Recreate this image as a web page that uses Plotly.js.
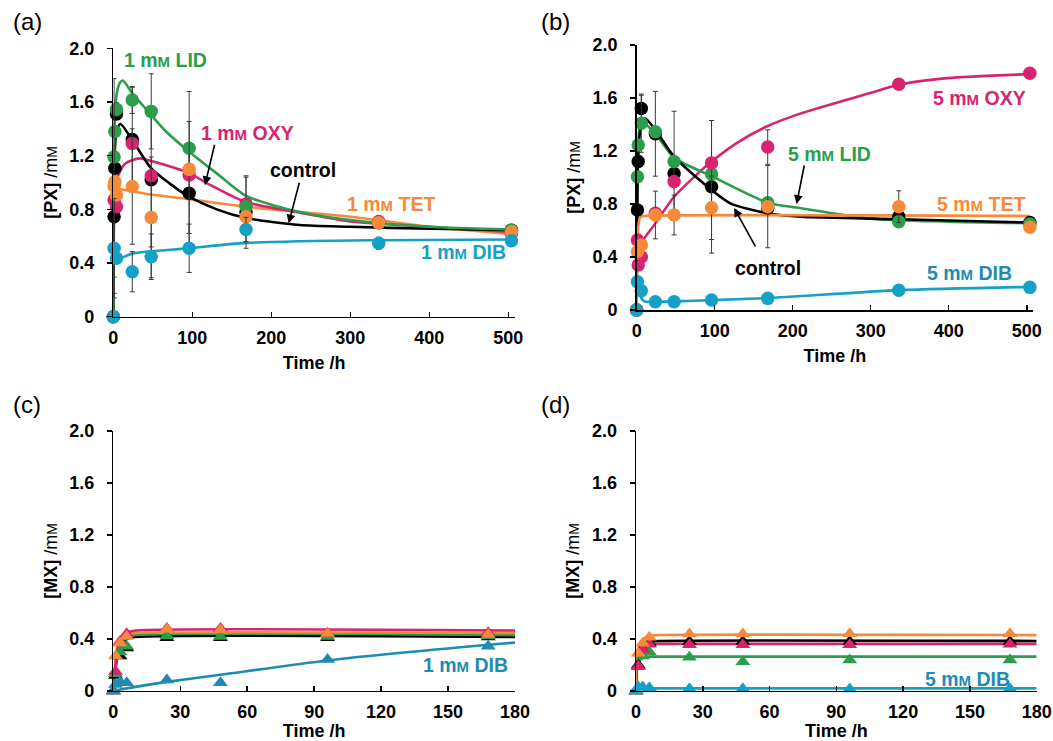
<!DOCTYPE html>
<html><head><meta charset="utf-8">
<script src="https://cdn.plot.ly/plotly-3.0.1.min.js"></script>
<style>html,body{margin:0;padding:0;background:#fff}#chart{width:1053px;height:741px}</style>
</head><body><div id="chart"></div>
<script>
// ---------- colours ----------
const C_BLACK = '#000000', C_GREEN = '#2a9e4a', C_MAG = '#d8236f', C_ORG = '#f7893a', C_BLUE = '#15a0c8', C_BLUE2 = '#1f8bb2';

// ---------- panel (a): [PX], 1 mM ----------
const tA = [0, 1, 2, 4, 24, 48, 96, 168, 336, 504];
const a_control = [0, 0.745, 1.106, 1.51, 1.32, 1.02, 0.92, 0.78, 0.70, 0.645];
const a_LID = [0, 1.19, 1.38, 1.545, 1.615, 1.53, 1.255, 0.82, 0.70, 0.645];
const a_OXY = [0, 0.87, null, 0.82, 1.29, 1.05, 1.056, 0.84, 0.71, 0.62];
const a_TET = [0, 0.974, 1.006, 0.907, 0.97, 0.74, 1.098, 0.745, 0.70, 0.633];
const a_DIB = [0, 0.51, null, 0.435, 0.335, 0.447, 0.51, 0.65, 0.547, 0.566];
const a_err_control = [0, 0.45, 0, 0, 0.39, 0.50, 0.30, 0.27, 0, 0];
const a_err_LID = [0, 0, 0, 0.05, 0.10, 0.28, 0.20, 0, 0, 0];
const a_err_OXY = [0, 0, 0, 0, 0, 0, 0, 0.20, 0, 0];
const a_err_TET = [0, 0.80, 0, 0, 0.43, 0.45, 0.58, 0, 0, 0];
const a_err_DIB = [0, 0.37, 0, 0, 0.15, 0.17, 0.18, 0.09, 0.045, 0];
// fitted curves (a)
const aft_control = [0, 1, 2, 4, 9, 24, 48, 72, 96, 131, 168, 236, 300, 400, 504];
const afv_control = [0, 1.0, 1.25, 1.38, 1.436, 1.317, 1.105, 0.99, 0.894, 0.80, 0.735, 0.683, 0.67, 0.655, 0.646];
const aft_LID = [0, 1, 2, 4, 8, 12, 24, 48, 67, 96, 131, 168, 236, 300, 400, 504];
const afv_LID = [0, 1.2, 1.5, 1.65, 1.74, 1.76, 1.665, 1.503, 1.378, 1.23, 1.068, 0.90, 0.78, 0.72, 0.67, 0.65];
const aft_OXY = [0, 1, 2, 6, 15, 33, 48, 96, 120, 167, 236, 300, 400, 504];
const afv_OXY = [0, 0.85, 0.95, 1.05, 1.14, 1.18, 1.16, 1.07, 0.99, 0.856, 0.775, 0.71, 0.67, 0.63];
const aft_TET = [0, 0.5, 2, 24, 48, 96, 167, 236, 300, 400, 504];
const afv_TET = [0, 0.97, 0.96, 0.935, 0.91, 0.875, 0.82, 0.78, 0.745, 0.67, 0.616];
const aft_DIB = [0, 0.5, 2, 5, 24, 96, 168, 336, 504];
const afv_DIB = [0, 0.5, 0.46, 0.43, 0.47, 0.51, 0.55, 0.57, 0.575];

// ---------- panel (b): [PX], 5 mM ----------
const tB = [0, 1, 2, 6, 24, 48, 96, 168, 336, 504];
const b_control = [0, 0.755, 1.12, 1.52, 1.33, 1.03, 0.93, 0.77, 0.704, 0.66];
const b_LID = [0, 1.006, 1.245, 1.41, 1.346, 1.12, 1.026, 0.81, 0.667, 0.65];
const b_OXY = [0, 0.528, 0.34, 0.40, 0.73, 0.97, 1.11, 1.23, 1.703, 1.786];
const b_TET = [0, 0.44, null, 0.49, 0.717, 0.717, 0.772, 0.78, 0.78, 0.624];
const b_DIB = [0, 0.214, null, 0.146, 0.063, 0.063, 0.075, 0.088, 0.15, 0.171];
const b_err_control = [0, 0, 0, 0.10, 0.32, 0, 0.50, 0, 0, 0];
const b_err_LID = [0, 0, 0, 0.22, 0, 0.38, 0, 0, 0, 0];
const b_err_OXY = [0, 0, 0, 0, 0, 0, 0.32, 0.13, 0, 0];
const b_err_TET = [0, 0, 0, 0, 0.18, 0.15, 0.24, 0.31, 0.12, 0];
const b_err_DIB = [0, 0, 0, 0, 0, 0, 0, 0, 0.04, 0.03];
const bft_control = [0, 1, 2, 4, 7, 10.6, 24, 48, 96, 120, 168, 210, 336, 504];
const bfv_control = [0, 0.9, 1.15, 1.33, 1.42, 1.447, 1.36, 1.157, 0.906, 0.805, 0.73, 0.704, 0.685, 0.66];
const bft_LID = [0, 1, 2, 4, 6, 24, 48, 96, 168, 209, 300, 400, 504];
const bfv_LID = [0, 1.0, 1.25, 1.38, 1.42, 1.33, 1.15, 1.01, 0.81, 0.77, 0.69, 0.667, 0.655];
const bft_OXY = [0, 1, 24, 48, 76.6, 96, 127.7, 166, 208.6, 298, 336, 398, 504];
const bfv_OXY = [0, 0.45, 0.654, 0.855, 1.02, 1.12, 1.258, 1.383, 1.48, 1.635, 1.70, 1.75, 1.78];
const bft_TET = [0, 0.5, 2, 4, 6, 10, 504];
const bfv_TET = [0, 0.45, 0.62, 0.69, 0.705, 0.71, 0.71];
const bft_DIB = [0, 0.5, 2, 6, 10, 24, 48, 96, 168, 336, 504];
const bfv_DIB = [0, 0.21, 0.16, 0.09, 0.065, 0.063, 0.065, 0.075, 0.09, 0.15, 0.175];

// ---------- panel (c): [MX], 1 mM ----------
const tC = [0, 1, 3, 6, 24, 48, 96, 168];
const c_control = [0, 0.12, 0.27, 0.33, 0.41, 0.41, 0.41, 0.415];
const c_LID = [0, 0.133, 0.30, 0.345, 0.425, 0.42, 0.42, 0.425];
const c_OXY = [0, 0.15, 0.38, 0.44, 0.48, 0.48, 0.445, 0.448];
const c_TET = [0, 0.27, 0.37, 0.42, 0.474, 0.47, 0.443, 0.435];
const c_DIB = [0, 0.05, 0.07, 0.064, 0.085, 0.064, 0.243, 0.345];
const cft = [0, 1, 2, 4, 6, 10, 180];
const cfv_control = [0, 0.17, 0.28, 0.37, 0.40, 0.415, 0.415];
const cfv_LID = [0, 0.18, 0.30, 0.38, 0.41, 0.43, 0.43];
const cfv_OXY = [0, 0.20, 0.33, 0.42, 0.45, 0.465, 0.465];
const cfv_TET = [0, 0.25, 0.36, 0.42, 0.44, 0.447, 0.447];
const cft_DIB = [0, 6, 24, 48, 96, 168, 180];
const cfv_DIB = [0, 0.02, 0.07, 0.125, 0.235, 0.355, 0.372];

// ---------- panel (d): [MX], 5 mM ----------
const tD = [0, 1, 3, 6, 24, 48, 96, 168];
const d_control = [0, 0.20, 0.33, 0.37, 0.38, 0.38, 0.38, 0.38];
const d_LID = [0, 0.187, 0.27, 0.30, 0.259, 0.225, 0.238, 0.238];
const d_OXY = [0, 0.19, 0.32, 0.36, 0.355, 0.355, 0.355, 0.36];
const d_TET = [0, 0.29, 0.367, 0.413, 0.438, 0.438, 0.44, 0.44];
const d_DIB = [0, 0.03, 0.03, 0.025, 0.018, 0.018, 0.015, 0.018];
const dft = [0, 0.5, 2, 4, 6, 10, 180];
const dfv_control = [0, 0.22, 0.33, 0.37, 0.38, 0.385, 0.385];
const dfv_LID = [0, 0.17, 0.24, 0.26, 0.264, 0.264, 0.264];
const dfv_OXY = [0, 0.20, 0.31, 0.35, 0.36, 0.362, 0.362];
const dfv_TET = [0, 0.28, 0.37, 0.41, 0.425, 0.43, 0.43];
const dft_DIB = [0, 0.5, 2, 6, 10, 180];
const dfv_DIB = [0, 0.04, 0.025, 0.02, 0.02, 0.02];

// ---------- tick labels ----------
const yTickVals = [0, 0.4, 0.8, 1.2, 1.6, 2.0];
const yTickText = ['0', '0.4', '0.8', '1.2', '1.6', '2.0'];
const xTickLong = [0, 100, 200, 300, 400, 500];
const xTickShort = [0, 30, 60, 90, 120, 150, 180];

// ---------- builders ----------
const FONT = 'Liberation Sans, Arial, Helvetica, sans-serif';
function curve(x, y, color, ax) {
  return {x: x, y: y, type: 'scatter', mode: 'lines', xaxis: 'x' + ax, yaxis: 'y' + ax,
    line: {color: color, width: 2.6, shape: 'spline', smoothing: 0.7}, cliponaxis: false, hoverinfo: 'skip'};
}
function points(x, y, err, color, ax, symbol) {
  const t = {x: x, y: y, type: 'scatter', mode: 'markers', xaxis: 'x' + ax, yaxis: 'y' + ax, cliponaxis: false,
    marker: {color: color, size: symbol === 'circle' ? 13.5 : 13, symbol: symbol, line: {width: 0}}};
  if (err) t.error_y = {type: 'data', array: err, visible: true, color: '#3a3a3a', thickness: 1, width: 2.5};
  return t;
}
const ax1 = '', ax2 = '2', ax3 = '3', ax4 = '4';
const data = [
  // (a) curves
  curve(aft_TET, afv_TET, C_ORG, ax1), curve(aft_DIB, afv_DIB, C_BLUE, ax1),
  curve(aft_OXY, afv_OXY, C_MAG, ax1), curve(aft_control, afv_control, C_BLACK, ax1), curve(aft_LID, afv_LID, C_GREEN, ax1),
  // (a) points
  points(tA, a_control, a_err_control, C_BLACK, ax1, 'circle'),
  points(tA, a_OXY, a_err_OXY, C_MAG, ax1, 'circle'),
  points(tA, a_LID, a_err_LID, C_GREEN, ax1, 'circle'),
  points(tA, a_TET, a_err_TET, C_ORG, ax1, 'circle'),
  points(tA, a_DIB, a_err_DIB, C_BLUE, ax1, 'circle'),
  // (b) curves
  curve(bft_DIB, bfv_DIB, C_BLUE, ax2), curve(bft_OXY, bfv_OXY, C_MAG, ax2), curve(bft_LID, bfv_LID, C_GREEN, ax2),
  curve(bft_control, bfv_control, C_BLACK, ax2), curve(bft_TET, bfv_TET, C_ORG, ax2),
  // (b) points
  points(tB, b_control, b_err_control, C_BLACK, ax2, 'circle'),
  points(tB, b_LID, b_err_LID, C_GREEN, ax2, 'circle'),
  points(tB, b_OXY, b_err_OXY, C_MAG, ax2, 'circle'),
  points(tB, b_TET, b_err_TET, C_ORG, ax2, 'circle'),
  points(tB, b_DIB, b_err_DIB, C_BLUE, ax2, 'circle'),
  // (c)
  curve(cft_DIB, cfv_DIB, C_BLUE2, ax3), curve(cft, cfv_control, C_BLACK, ax3), curve(cft, cfv_LID, C_GREEN, ax3),
  curve(cft, cfv_TET, C_ORG, ax3), curve(cft, cfv_OXY, C_MAG, ax3),
  points(tC, c_control, null, C_BLACK, ax3, 'triangle-up'),
  points(tC, c_LID, null, C_GREEN, ax3, 'triangle-up'),
  points(tC, c_OXY, null, C_MAG, ax3, 'triangle-up'),
  points(tC, c_TET, null, C_ORG, ax3, 'triangle-up'),
  points(tC, c_DIB, null, C_BLUE2, ax3, 'triangle-up'),
  // (d)
  curve(dft_DIB, dfv_DIB, C_BLUE, ax4), curve(dft, dfv_LID, C_GREEN, ax4), curve(dft, dfv_OXY, C_MAG, ax4),
  curve(dft, dfv_control, C_BLACK, ax4), curve(dft, dfv_TET, C_ORG, ax4),
  points(tD, d_control, null, C_BLACK, ax4, 'triangle-up'),
  points(tD, d_LID, null, C_GREEN, ax4, 'triangle-up'),
  points(tD, d_OXY, null, C_MAG, ax4, 'triangle-up'),
  points(tD, d_TET, null, C_ORG, ax4, 'triangle-up'),
  points(tD, d_DIB, null, C_BLUE, ax4, 'triangle-up')
];

const tickFont = {family: FONT, size: 18, color: '#000', weight: 'bold'};
function xAx(domain, range, vals, anchor) {
  return {domain: domain, range: range, anchor: anchor, showline: true, linecolor: '#000', linewidth: 1.5,
    showgrid: false, zeroline: false, ticks: 'inside', ticklen: 5, tickwidth: 1.5, tickcolor: '#000',
    tickvals: vals, ticktext: vals.map(String), tickfont: tickFont, ticklabelstandoff: 4,
    title: {text: 'Time /h', font: {family: FONT, size: 18, color: '#000', weight: 'bold'}, standoff: 9}};
}
function yAx(domain, anchor, label) {
  return {domain: domain, range: [0, 2], anchor: anchor, showline: true, linecolor: '#000', linewidth: 1.5,
    showgrid: false, zeroline: false, ticks: 'outside', ticklen: 5, tickwidth: 1.5, tickcolor: '#000',
    tickvals: yTickVals, ticktext: yTickText, tickfont: tickFont, ticklabelstandoff: 9,
    title: {text: label, font: {family: FONT, size: 18, color: '#000'}, standoff: 7}};
}
const PX = '<b>[PX]</b> /m<span style="font-size:14px">M</span>';
const MX = '<b>[MX]</b> /m<span style="font-size:14px">M</span>';

function lbl(ax, x, y, text, color) {
  return {xref: 'x' + ax, yref: 'y' + ax, x: x, y: y, text: text, showarrow: false,
    font: {family: FONT, size: 19.5, color: color, weight: 'bold'}, xanchor: 'left', yanchor: 'middle'};
}
function arrow(ax, x, y, dx, dy) {
  return {xref: 'x' + ax, yref: 'y' + ax, x: x, y: y, ax: dx, ay: dy, text: '', showarrow: true,
    arrowhead: 2, arrowsize: 1.1, arrowwidth: 1.6, arrowcolor: '#000'};
}
const mm = (n) => n + ' m<span style="font-size:15px">M</span>';
function panelLetter(x, y, t) {
  return {xref: 'paper', yref: 'paper', x: x, y: y, text: t, showarrow: false,
    font: {family: FONT, size: 24, color: '#000'}, xanchor: 'center', yanchor: 'middle'};
}
const annotations = [
  panelLetter(27 / 1053, 1 - 22 / 741, '(a)'), panelLetter(555 / 1053, 1 - 22 / 741, '(b)'),
  panelLetter(27 / 1053, 1 - 404 / 741, '(c)'), panelLetter(555 / 1053, 1 - 404 / 741, '(d)'),
  // (a)
  lbl('', 11, 1.91, mm(1) + ' LID', C_GREEN),
  lbl('', 108, 1.37, mm(1) + ' OXY', C_MAG),
  lbl('', 196, 1.09, 'control', C_BLACK),
  lbl('', 293, 0.84, mm(1) + ' TET', C_ORG),
  lbl('', 387, 0.48, mm(1) + ' DIB', C_BLUE),
  arrow('', 116, 0.98, 10, -42),
  arrow('', 222, 0.696, 11, -42),
  // (b)
  lbl('2', 377, 1.60, mm(5) + ' OXY', C_MAG),
  lbl('2', 192, 1.18, mm(5) + ' LID', C_GREEN),
  lbl('2', 382, 0.80, mm(5) + ' TET', C_ORG),
  lbl('2', 123, 0.315, 'control', C_BLACK),
  lbl('2', 369, 0.28, mm(5) + ' DIB', C_BLUE2),
  arrow('2', 205, 0.80, 8, -40),
  arrow('2', 125, 0.77, 22, 40),
  // (c)
  lbl('3', 138, 0.20, mm(1) + ' DIB', C_BLUE2),
  // (d)
  lbl('4', 129, 0.09, mm(5) + ' DIB', C_BLUE2)
];

const layout = {
  width: 1053, height: 741, margin: {l: 0, r: 0, t: 0, b: 0}, showlegend: false,
  paper_bgcolor: '#fff', plot_bgcolor: 'rgba(0,0,0,0)', font: {family: FONT, color: '#000'},
  xaxis: xAx([0.1076, 0.4891], [0, 508.5], xTickLong, 'y'),
  yaxis: yAx([0.5726, 0.9348], 'x', PX),
  xaxis2: xAx([0.6046, 0.9810], [0, 508], xTickLong, 'y2'),
  yaxis2: yAx([0.5816, 0.9393], 'x2', PX),
  xaxis3: xAx([0.1076, 0.4891], [0, 180], xTickShort, 'y3'),
  yaxis3: yAx([0.0675, 0.4184], 'x3', MX),
  xaxis4: xAx([0.6040, 0.9845], [0, 180], xTickShort, 'y4'),
  yaxis4: yAx([0.0675, 0.4184], 'x4', MX),
  annotations: annotations
};
Plotly.newPlot('chart', data, layout, {displayModeBar: false, staticPlot: true});
</script></body></html>
